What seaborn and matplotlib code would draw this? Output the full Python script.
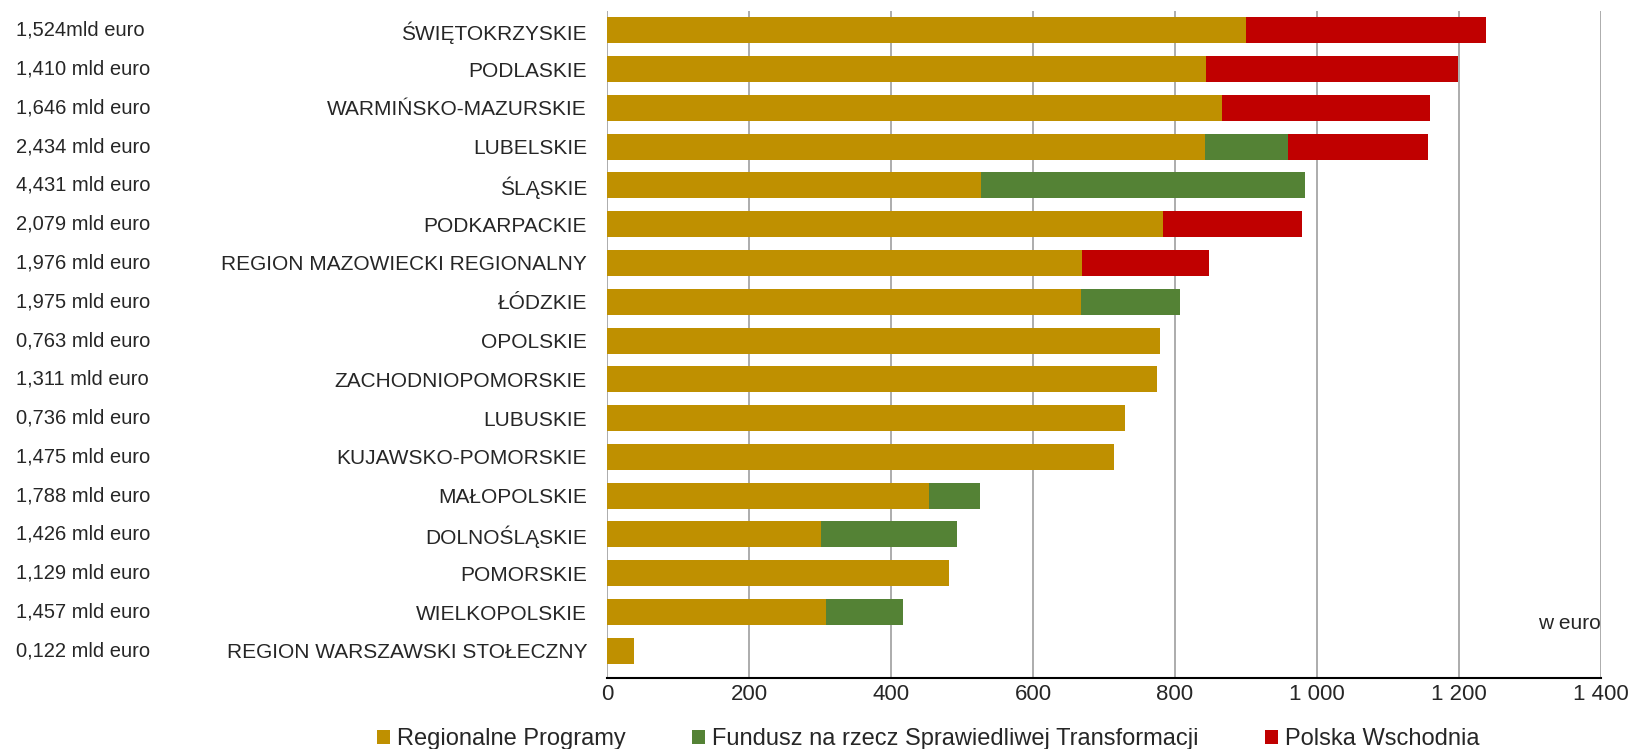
import matplotlib
matplotlib.use("Agg")
import matplotlib.pyplot as plt
import matplotlib.transforms as mtransforms
from matplotlib.patches import Patch
import seaborn as sns
import numpy as np
import pandas as pd

categories = [
    "ŚWIĘTOKRZYSKIE", "PODLASKIE", "WARMIŃSKO-MAZURSKIE", "LUBELSKIE", "ŚLĄSKIE",
    "PODKARPACKIE", "REGION MAZOWIECKI REGIONALNY", "ŁÓDZKIE", "OPOLSKIE",
    "ZACHODNIOPOMORSKIE", "LUBUSKIE", "KUJAWSKO-POMORSKIE", "MAŁOPOLSKIE",
    "DOLNOŚLĄSKIE", "POMORSKIE", "WIELKOPOLSKIE", "REGION WARSZAWSKI STOŁECZNY",
]
totals_label = [
    "1,524mld euro", "1,410 mld euro", "1,646 mld euro", "2,434 mld euro", "4,431 mld euro",
    "2,079 mld euro", "1,976 mld euro", "1,975 mld euro", "0,763 mld euro", "1,311 mld euro",
    "0,736 mld euro", "1,475 mld euro", "1,788 mld euro", "1,426 mld euro", "1,129 mld euro",
    "1,457 mld euro", "0,122 mld euro",
]
regionalne = [900, 844, 866, 842, 527, 783, 669, 668, 779, 775, 730, 714, 453, 302, 482, 308, 38]
fst        = [0,   0,   0,   117, 456, 0,   0,   139, 0,   0,   0,   0,   72,  191, 0,   109, 0]
wschodnia  = [338, 355, 293, 198, 0,   196, 179, 0,   0,   0,   0,   0,   0,   0,   0,   0,   0]
series_names = ["Regionalne Programy", "Fundusz na rzecz Sprawiedliwej Transformacji", "Polska Wschodnia"]
xticks = [0, 200, 400, 600, 800, 1000, 1200, 1400]
xtick_labels = ["0", "200", "400", "600", "800", "1 000", "1 200", "1 400"]

colors = ["#BF9000", "#548235", "#C00000"]

df = pd.DataFrame({"region": categories, "r": regionalne, "f": fst, "w": wschodnia})
df["cum1"] = df["r"]
df["cum2"] = df["r"] + df["f"]
df["cum3"] = df["r"] + df["f"] + df["w"]

sns.set_style("white")
plt.rcParams["font.family"] = ["Liberation Sans", "DejaVu Sans"]

fig = plt.figure(figsize=(16.3, 7.49), dpi=100)
ax = fig.add_axes([0.3724, 0.0948, 0.6098, 0.8907])

for col, c in [("cum3", colors[2]), ("cum2", colors[1]), ("cum1", colors[0])]:
    sns.barplot(data=df, x=col, y="region", order=categories, color=c,
                saturation=1, width=0.67, orient="h", ax=ax, linewidth=0)

ax.set_xlim(0, 1400)
ax.set_ylim(16.7, -0.5)
ax.set_xticks(xticks)
ax.set_xticklabels(xtick_labels, fontsize=16)
ax.set_xlabel("")
ax.set_ylabel("")
ax.xaxis.grid(True, color="#A6A6A6", linewidth=1.3)
ax.yaxis.grid(False)
ax.set_axisbelow(True)
for s in ["left", "top", "right"]:
    ax.spines[s].set_visible(False)
ax.spines["bottom"].set_color("black")
ax.spines["bottom"].set_linewidth(1.5)
ax.tick_params(axis="x", direction="inout", length=9, width=1.3, color="black", pad=0)
ax.tick_params(axis="y", length=0, pad=14.4, labelsize=15)

ax.text(1400, 15.3, "w euro", ha="right", va="center", fontsize=15)

trans = mtransforms.blended_transform_factory(fig.transFigure, ax.transData)
for i, lab in enumerate(totals_label):
    ax.text(16 / 1630, i, lab, transform=trans, ha="left", va="center", fontsize=14.5)

handles = [Patch(facecolor=c, edgecolor="none") for c in colors]
fig.legend(handles, series_names, loc="center", bbox_to_anchor=(0.5695, 0.013),
           ncol=3, frameon=False, fontsize=17, handlelength=0.55, handleheight=0.55,
           handletextpad=0.3, columnspacing=2.82, borderaxespad=0)

fig.savefig("out.png", dpi=100)
